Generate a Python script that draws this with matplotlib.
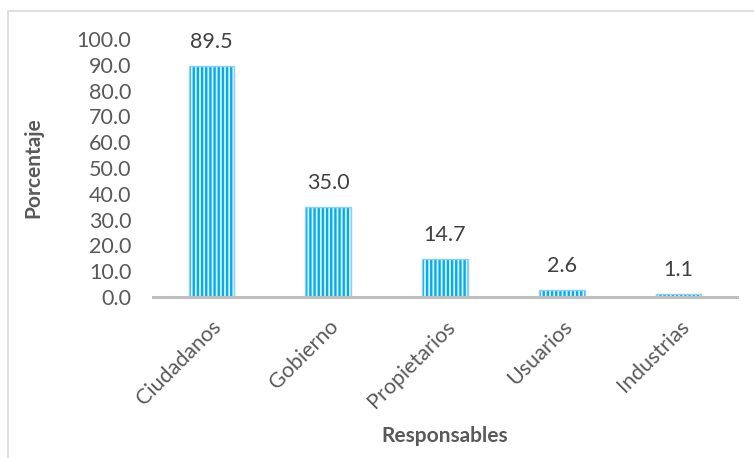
import numpy as np
import matplotlib.pyplot as plt
from matplotlib.patches import Rectangle

plt.rcParams['font.family'] = ['Lato', 'DejaVu Sans']
plt.rcParams['hatch.linewidth'] = 1.7

# data
categorias = ['Ciudadanos', 'Gobierno', 'Propietarios', 'Usuarios', 'Industrias']
porcentajes = [89.5, 35.0, 14.7, 2.6, 1.1]
yticks = np.arange(0, 101, 10)

gris = '#595959'

fig = plt.figure(figsize=(7.54, 4.58), dpi=100)
ax = fig.add_axes([153 / 754, 1 - 297 / 458, 584 / 754, 258 / 458])

x = np.arange(len(categorias))
# striped fill (hatch takes the edge colour)
ax.bar(x, porcentajes, width=0.39, color='#dff1fa', edgecolor='#00aeef',
       linewidth=0, hatch='||||')
# light outline
ax.bar(x, porcentajes, width=0.39, fill=False, edgecolor='#8fd0f0', linewidth=1.0)

for xi, v in zip(x, porcentajes):
    ax.annotate(f'{v:.1f}', (xi, v), xytext=(0, 10), textcoords='offset points',
                ha='center', va='bottom', fontsize=15.5, color='#404040')

ax.set_xlim(-0.5, len(categorias) - 0.5)
ax.set_ylim(0, 100)
ax.set_yticks(yticks)
ax.set_yticklabels([f'{t:.1f}' for t in yticks], fontsize=15.5, color=gris)
ax.set_xticks(x)
ax.set_xticklabels(categorias, rotation=45, ha='right', rotation_mode='anchor',
                   fontsize=15.5, color=gris)
ax.tick_params(axis='x', length=0, pad=14)
ax.tick_params(axis='y', length=0, pad=15.5)

for s in ['top', 'right', 'left']:
    ax.spines[s].set_visible(False)
ax.spines['bottom'].set_color('#bfbfbf')
ax.spines['bottom'].set_linewidth(2.2)
ax.spines['bottom'].set_zorder(3)

ax.set_ylabel('Porcentaje', fontsize=15, fontweight='bold', color=gris, labelpad=24)
ax.set_xlabel('Responsables', fontsize=15, fontweight='bold', color=gris, labelpad=10)

# outer frame
fig.patches.append(Rectangle((8 / 754, -0.1), 1.2, (1 - 11 / 458) + 0.1,
                             transform=fig.transFigure, fill=False,
                             edgecolor='#d9d9d9', linewidth=1.2))

fig.savefig('out.png', dpi=100)
